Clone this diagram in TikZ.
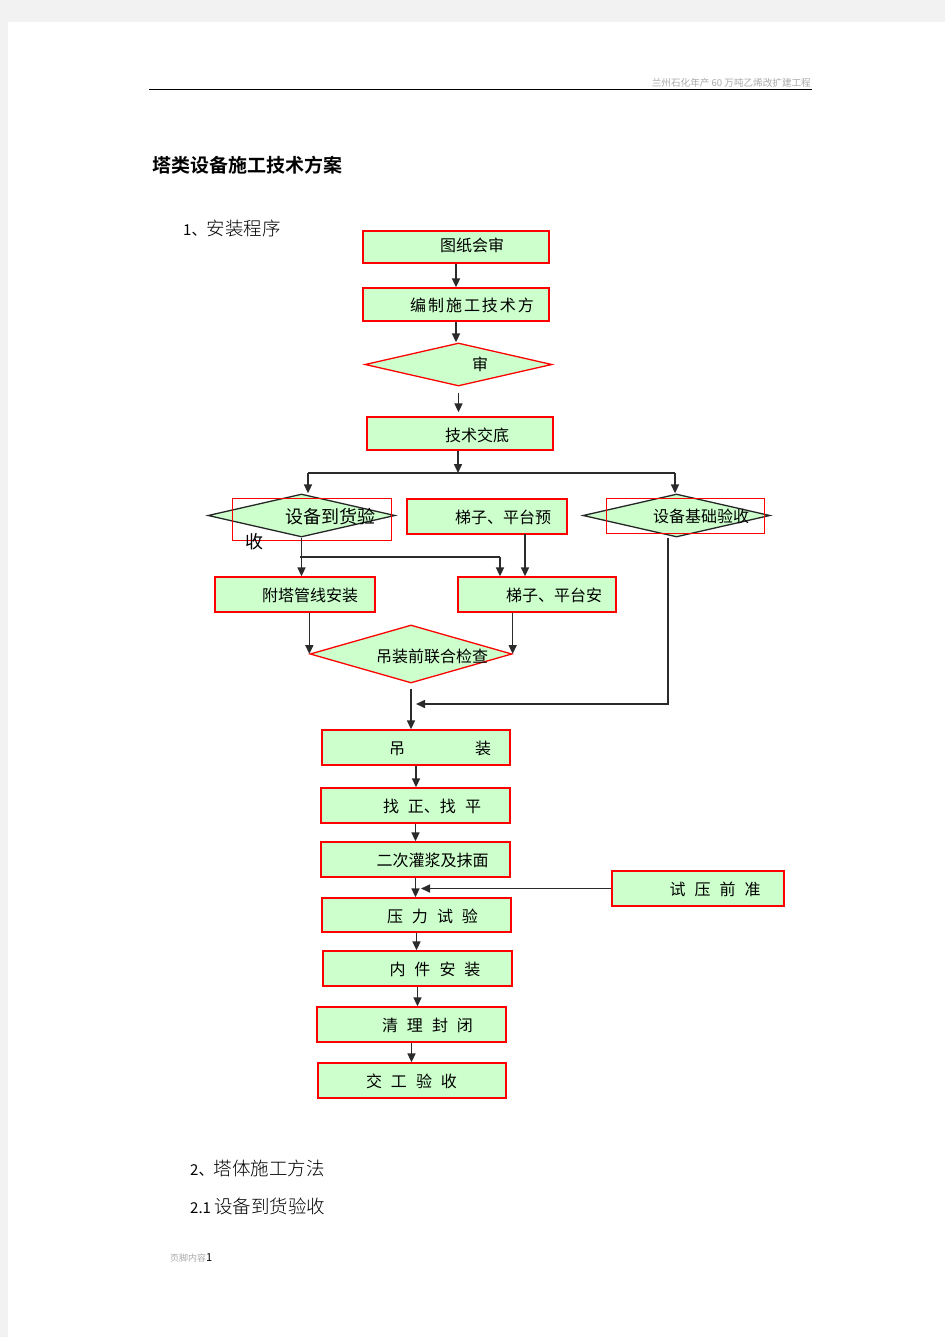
\documentclass[tikz,border=0pt]{standalone}
\usepackage{fontspec}
\usetikzlibrary{shapes.geometric,arrows.meta}
\newfontfamily\cjk{Noto Sans CJK SC}
\newfontfamily\song{Noto Sans CJK SC Light}
\newfontfamily\songb{Noto Sans CJK SC Bold}
\definecolor{boxgreen}{HTML}{CCFFCC}
\definecolor{linegray}{HTML}{2B2B2B}
\definecolor{pagegray}{HTML}{F2F2F2}
\definecolor{headgray}{HTML}{ABABAB}
\tikzset{
  box/.style={draw=red, fill=boxgreen, line width=1.3pt, inner sep=0pt},
  dia/.style={diamond, draw=red, fill=boxgreen, line width=1.3pt, inner sep=0pt},
  redframe/.style={draw=red, line width=1pt, inner sep=0pt},
  lbl/.style={font=\cjk\fontsize{16}{16}\selectfont, inner sep=0pt},
  arr/.style={draw=linegray, line width=1.6pt, -{Triangle[length=9pt,width=8pt]}},
  ln/.style={draw=linegray, line width=1.6pt}
}
\newcommand{\gp}{\hspace{9pt}}
\begin{document}
\begin{tikzpicture}[x=1pt,y=-1pt]
% page
\fill[pagegray] (0,0) rectangle (945,1337);
\fill[white] (8,22) rectangle (945,1337);
\useasboundingbox (0,0) rectangle (945,1337);

% header and headings
\draw[line width=1pt] (149,90) -- (812,90);
\node[anchor=east, inner sep=0pt, text=headgray, font=\cjk\fontsize{9.6}{9.6}\selectfont] (kopf) at (811,83) {兰州石化年产 60 万吨乙烯改扩建工程};
\node[anchor=west, inner sep=0pt, font=\songb\fontsize{19}{19}\selectfont] (titel) at (152,165) {塔类设备施工技术方案};
\node[anchor=west, inner sep=0pt, font=\song\fontsize{18.5}{18.5}\selectfont] (teil1) at (183,228) {{\cjk\fontsize{15}{15}\selectfont 1、}安装程序};

% upper chain
\node[box, minimum width=186pt, minimum height=32pt] (tuzhi) at (456,247) {};
\node[lbl] (tuzhiT) at (472,245) {图纸会审};
\node[box, minimum width=186pt, minimum height=33pt] (bianzhi) at (456,304.5) {};
\node[lbl] (bianzhiT) at (472,305) {\addfontfeatures{LetterSpace=12}编制施工技术方};
\node[dia, minimum width=187pt, minimum height=43pt] (shen) at (458.5,364.5) {};
\node[lbl] (shenT) at (480,364) {审};
\node[box, minimum width=186pt, minimum height=33pt] (jiaodi) at (460,433.5) {};
\node[lbl] (jiaodiT) at (477,435) {技术交底};

\draw[arr] (tuzhi.south) -- (bianzhi.north);
\draw[arr] (bianzhi.south) -- (bianzhi.south |- shen.north);
\draw[arr, shorten <=6pt, shorten >=4pt] (shen.south) -- (shen.south |- jiaodi.north);

% branch
\coordinate (fen) at (458,473);
\coordinate (fenL) at (308,473);
\coordinate (fenR) at (675,473);
\draw[arr] (jiaodi.south -| fen) -- (fen);
\draw[ln] (fenL) -- (fenR);

% second row
\node[dia, draw=black!85, minimum width=187pt, minimum height=43pt] (daohuo) at (301.5,515.5) {};
\node[redframe, minimum width=159pt, minimum height=42pt] (daohuoK) at (311.5,519) {};
\node[inner sep=0pt, font=\cjk\fontsize{18}{18}\selectfont] (daohuoT) at (330.5,517) {设备到货验};
\node[inner sep=0pt, font=\cjk\fontsize{18}{18}\selectfont] (daohuoT2) at (254,542) {收};
\node[box, minimum width=160pt, minimum height=35pt] (tiziY) at (487,516.5) {};
\node[lbl] (tiziYT) at (503,517) {梯子、平台预};
\node[dia, draw=black!85, minimum width=187pt, minimum height=43pt] (jichu) at (676.5,515.5) {};
\node[redframe, minimum width=158pt, minimum height=35pt] (jichuK) at (685,515.5) {};
\node[lbl] (jichuT) at (701,516) {设备基础验收};

\draw[arr] (fenL) -- (fenL |- daohuo.north);
\draw[arr] (fenR) -- (fenR |- jichu.north);

% third row
\node[box, minimum width=160pt, minimum height=35pt] (futa) at (295,594.5) {};
\node[lbl] (futaT) at (310,595) {附塔管线安装};
\node[box, minimum width=158pt, minimum height=35pt] (tiziA) at (537,594.5) {};
\node[lbl] (tiziAT) at (554,595) {梯子、平台安};

\coordinate (zhe) at (300,557);
\coordinate (zheR) at (500,557);
\coordinate (tiziX) at (525,534);
\draw[arr] (daohuo.south) -- (daohuo.south |- futa.north);
\draw[ln] (zhe) -- (zheR);
\draw[arr] (zheR) -- (zheR |- tiziA.north);
\draw[arr] (tiziX) -- (tiziX |- tiziA.north);

% joint check
\node[dia, minimum width=202pt, minimum height=58pt] (jiancha) at (411,654) {};
\node[lbl] (jianchaT) at (432,656) {吊装前联合检查};
\draw[arr] (jiancha.west |- futa.south) -- (jiancha.west);
\draw[arr] (jiancha.east |- tiziA.south) -- (jiancha.east);

% lower chain
\node[box, minimum width=188pt, minimum height=35pt] (diao) at (416,747.5) {};
\node[lbl] (diaoT) at (440,748) {吊\hspace{70pt}装};
\node[box, minimum width=189pt, minimum height=35pt] (zhao) at (415.5,805.5) {};
\node[lbl] (zhaoT) at (432,806) {找\gp 正、找\gp 平};
\node[box, minimum width=189pt, minimum height=35pt] (erci) at (415.5,859.5) {};
\node[lbl] (erciT) at (432.5,860) {二次灌浆及抹面};
\node[box, minimum width=189pt, minimum height=34pt] (yali) at (416.5,915) {};
\node[lbl] (yaliT) at (432.5,916) {压\gp 力\gp 试\gp 验};
\node[box, minimum width=189pt, minimum height=35pt] (neijian) at (417.5,968.5) {};
\node[lbl] (neijianT) at (435,969) {内\gp 件\gp 安\gp 装};
\node[box, minimum width=189pt, minimum height=35pt] (qingli) at (411.5,1024.5) {};
\node[lbl] (qingliT) at (427.5,1025) {清\gp 理\gp 封\gp 闭};
\node[box, minimum width=188pt, minimum height=35pt] (jiaogong) at (412,1080.5) {};
\node[lbl] (jiaogongT) at (411.5,1081) {交\gp 工\gp 验\gp 收};
\node[box, minimum width=172pt, minimum height=35pt] (shiya) at (698,888.5) {};
\node[lbl] (shiyaT) at (715,889) {试\gp 压\gp 前\gp 准};

\draw[arr, shorten <=5pt] (jiancha.south) -- (jiancha.south |- diao.north);
\coordinate (hui) at (668,704);
\coordinate (huiL) at (416,704);
\draw[arr] (hui |- jichu.south) -- (hui) -- (huiL);
\draw[arr] (diao.south) -- (diao.south |- zhao.north);
\draw[arr] (zhao.south) -- (zhao.south |- erci.north);
\draw[arr] (erci.south) -- (erci.south |- yali.north);
\coordinate (ru) at (421,888.5);
\draw[arr] (shiya.west) -- (shiya.west -| ru);
\draw[arr] (yali.south) -- (yali.south |- neijian.north);
\draw[arr] (neijian.south) -- (neijian.south |- qingli.north);
\draw[arr] (qingli.south) -- (qingli.south |- jiaogong.north);

% bottom headings and footer
\node[anchor=west, inner sep=0pt, font=\song\fontsize{18.5}{18.5}\selectfont] (teil2) at (190,1168) {{\cjk\fontsize{15}{15}\selectfont 2、}塔体施工方法};
\node[anchor=west, inner sep=0pt, font=\song\fontsize{18.5}{18.5}\selectfont] (teil21) at (190,1206) {{\cjk\fontsize{15}{15}\selectfont 2.1 }设备到货验收};
\node[anchor=west, inner sep=0pt, text=headgray, font=\cjk\fontsize{9}{9}\selectfont] (fuss) at (170,1258) {页脚内容{\color{black}\fontsize{11}{11}\selectfont 1}};
\end{tikzpicture}
\end{document}
